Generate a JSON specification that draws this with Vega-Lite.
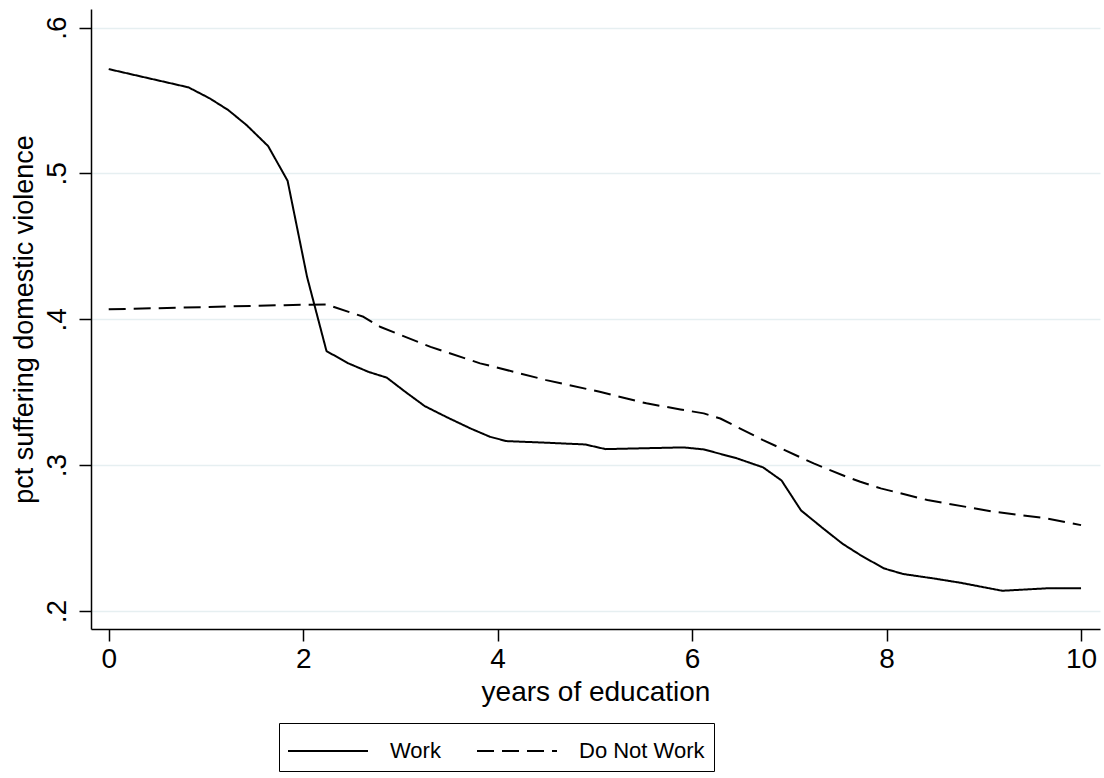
{
  "$schema": "https://vega.github.io/schema/vega-lite/v6.json",
  "width": 1009,
  "height": 620,
  "autosize": {"type": "none"},
  "padding": {"left": 91, "top": 9, "right": 4, "bottom": 149},
  "background": "white",
  "config": {
    "view": {"stroke": null},
    "font": "Liberation Sans"
  },
  "data": {
    "values": [
      {"series": "Work", "x": 0, "y": 0.5715},
      {"series": "Work", "x": 0.82, "y": 0.559},
      {"series": "Work", "x": 1.04, "y": 0.5514},
      {"series": "Work", "x": 1.23, "y": 0.5434},
      {"series": "Work", "x": 1.42, "y": 0.533},
      {"series": "Work", "x": 1.64, "y": 0.5187},
      {"series": "Work", "x": 1.84, "y": 0.4949},
      {"series": "Work", "x": 2.04, "y": 0.4291},
      {"series": "Work", "x": 2.24, "y": 0.3782},
      {"series": "Work", "x": 2.465, "y": 0.3698},
      {"series": "Work", "x": 2.67, "y": 0.364},
      {"series": "Work", "x": 2.86, "y": 0.36},
      {"series": "Work", "x": 3.05, "y": 0.3503},
      {"series": "Work", "x": 3.25, "y": 0.3405},
      {"series": "Work", "x": 3.48, "y": 0.3328},
      {"series": "Work", "x": 3.72, "y": 0.3252},
      {"series": "Work", "x": 3.92, "y": 0.3195},
      {"series": "Work", "x": 4.09, "y": 0.3165},
      {"series": "Work", "x": 4.5, "y": 0.3154},
      {"series": "Work", "x": 4.9, "y": 0.3142},
      {"series": "Work", "x": 5.11, "y": 0.311},
      {"series": "Work", "x": 5.91, "y": 0.3122},
      {"series": "Work", "x": 6.12, "y": 0.3108},
      {"series": "Work", "x": 6.46, "y": 0.3047},
      {"series": "Work", "x": 6.73, "y": 0.2985},
      {"series": "Work", "x": 6.92, "y": 0.2895},
      {"series": "Work", "x": 7.12, "y": 0.269},
      {"series": "Work", "x": 7.35, "y": 0.2565},
      {"series": "Work", "x": 7.55, "y": 0.246},
      {"series": "Work", "x": 7.73, "y": 0.2384},
      {"series": "Work", "x": 7.97, "y": 0.2293},
      {"series": "Work", "x": 8.17, "y": 0.2254},
      {"series": "Work", "x": 8.48, "y": 0.2224},
      {"series": "Work", "x": 8.76, "y": 0.2194},
      {"series": "Work", "x": 9.19, "y": 0.2139},
      {"series": "Work", "x": 9.65, "y": 0.2156},
      {"series": "Work", "x": 10.0, "y": 0.2156},
      {"series": "Do Not Work", "x": 0, "y": 0.4068},
      {"series": "Do Not Work", "x": 1.81, "y": 0.4097},
      {"series": "Do Not Work", "x": 2.24, "y": 0.4102},
      {"series": "Do Not Work", "x": 2.62, "y": 0.4017},
      {"series": "Do Not Work", "x": 2.79, "y": 0.3949},
      {"series": "Do Not Work", "x": 3.31, "y": 0.3811},
      {"series": "Do Not Work", "x": 3.82, "y": 0.3698},
      {"series": "Do Not Work", "x": 3.99, "y": 0.367},
      {"series": "Do Not Work", "x": 4.5, "y": 0.3583},
      {"series": "Do Not Work", "x": 5.05, "y": 0.3503},
      {"series": "Do Not Work", "x": 5.53, "y": 0.3424},
      {"series": "Do Not Work", "x": 5.88, "y": 0.3382},
      {"series": "Do Not Work", "x": 6.12, "y": 0.3355},
      {"series": "Do Not Work", "x": 6.29, "y": 0.332},
      {"series": "Do Not Work", "x": 6.73, "y": 0.3172},
      {"series": "Do Not Work", "x": 7.25, "y": 0.3012},
      {"series": "Do Not Work", "x": 7.59, "y": 0.292},
      {"series": "Do Not Work", "x": 7.73, "y": 0.2886},
      {"series": "Do Not Work", "x": 7.94, "y": 0.2841},
      {"series": "Do Not Work", "x": 8.42, "y": 0.2761},
      {"series": "Do Not Work", "x": 9.1, "y": 0.2681},
      {"series": "Do Not Work", "x": 9.65, "y": 0.2635},
      {"series": "Do Not Work", "x": 10.0, "y": 0.2589}
    ]
  },
  "mark": {"type": "line", "color": "black", "strokeWidth": 2, "strokeCap": "butt", "strokeJoin": "round"},
  "encoding": {
    "x": {
      "field": "x",
      "type": "quantitative",
      "scale": {"domain": [-0.182, 10.195], "nice": false, "zero": false},
      "axis": {
        "title": "years of education",
        "values": [0, 2, 4, 6, 8, 10],
        "grid": false,
        "domainColor": "black",
        "domainWidth": 1.5,
        "tickColor": "black",
        "tickWidth": 1.5,
        "tickSize": 12,
        "labelFontSize": 28,
        "labelColor": "black",
        "labelPadding": 4,
        "labelBaseline": "top",
        "labelFlush": false,
        "titleFontSize": 28,
        "titleFontWeight": "normal",
        "titleColor": "black",
        "titleBaseline": "alphabetic",
        "titleY": 71
      }
    },
    "y": {
      "field": "y",
      "type": "quantitative",
      "scale": {"domain": [0.1877, 0.6127], "nice": false, "zero": false},
      "axis": {
        "title": "pct suffering domestic violence",
        "values": [0.2, 0.3, 0.4, 0.5, 0.6],
        "labelExpr": "replace(format(datum.value, '.1f'), '0.', '.')",
        "grid": true,
        "gridColor": "#e6eff1",
        "gridWidth": 1.5,
        "domainColor": "black",
        "domainWidth": 1.5,
        "tickColor": "black",
        "tickWidth": 1.5,
        "tickSize": 12,
        "labelFontSize": 28,
        "labelColor": "black",
        "labelAngle": -90,
        "labelAlign": "center",
        "labelBaseline": "alphabetic",
        "labelPadding": 14,
        "labelFlush": false,
        "titleFontSize": 27,
        "titleFontWeight": "normal",
        "titleColor": "black",
        "titleAngle": -90,
        "titleAlign": "center",
        "titleBaseline": "middle",
        "titleX": -67,
        "titleY": 310
      }
    },
    "strokeDash": {
      "field": "series",
      "type": "nominal",
      "scale": {"domain": ["Work", "Do Not Work"], "range": [[1, 0], [17, 8]]},
      "legend": {
        "title": null,
        "orient": "none",
        "direction": "horizontal",
        "legendX": 188,
        "legendY": 714,
        "strokeColor": "black",
        "padding": 9,
        "symbolType": "M-2.2222,0H2.2222",
        "symbolSize": 1296,
        "symbolStrokeWidth": 2,
        "symbolStrokeColor": "black",
        "labelFont": "Liberation Sans",
        "labelFontSize": 22,
        "labelColor": "black",
        "labelOffset": 64,
        "columnPadding": 32,
        "encode": {
          "symbols": {
            "update": {
              "x": {"value": 40},
              "strokeDash": [
                {"test": "datum.value === 'Do Not Work'", "value": [10, 5]},
                {"value": [1, 0]}
              ]
            }
          }
        }
      }
    },
    "order": {"field": "x", "type": "quantitative"}
  }
}
